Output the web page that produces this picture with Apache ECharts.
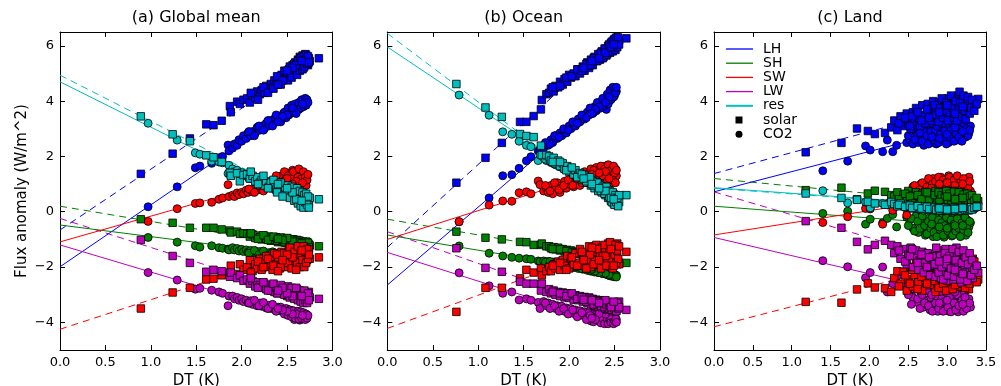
<!DOCTYPE html>
<html><head><meta charset="utf-8">
<script src="https://cdn.jsdelivr.net/npm/echarts@6/dist/echarts.min.js"></script>
<style>html,body{margin:0;padding:0;background:#fff}#chart{width:1001px;height:386px}</style>
</head><body><div id="chart"></div>
<script>
const varNames = ['LH','SH','SW','LW','res'];
const panelTitles = ['(a) Global mean','(b) Ocean','(c) Land'];
const yTickValues = [-4,-2,0,2,4,6];
const xMaxes = [3, 3, 3.5];

// ---- (a) Global mean ----
const aSolarDT = [0.89,1.24,1.43,1.61,1.69,1.78,1.87,1.88,1.95,1.98,2.02,2.06,2.09,2.12,2.15,2.17,2.2,2.22,2.25,2.27,2.3,2.32,2.34,2.36,2.38,2.4,2.42,2.44,2.46,2.48,2.5,2.52,2.54,2.56,2.57,2.59,2.6,2.62,2.63,2.64,2.66,2.67,2.68,2.69,2.7,2.71,2.72,2.73,2.74,2.75,2.85,
  2.1,2.18,2.24,2.29,2.35,2.39,2.43,2.47,2.51,2.53,2.55,2.58,2.61,2.62,2.64,2.65,2.67,2.68,2.69,2.7,2.71,2.72,2.73,2.74,2.6,2.56,2.5,2.45,2.4,2.66];
const aSolarLH = [1.37,2.1,2.65,3.16,3.13,3.29,3.82,3.6,3.98,3.9,4.05,4.1,3.95,4.2,4.12,4.35,4.25,4.4,4.3,4.55,4.45,4.62,4.5,4.75,4.6,4.85,4.7,4.95,4.8,5.05,4.9,5.15,5.0,5.3,5.1,5.4,5.05,5.5,5.25,5.6,5.35,5.65,5.2,5.5,5.7,5.4,5.6,5.3,5.55,5.45,5.55,
  4.3,4.05,4.5,4.3,4.45,4.9,4.6,5.1,4.75,5.25,4.85,5.35,4.95,5.45,5.1,5.55,5.15,5.6,5.25,5.5,5.68,5.35,5.62,5.4,5.3,5.2,5.1,4.75,4.6,5.45];
const aSolarSH = [-0.27,-0.4,-0.58,-0.58,-0.58,-0.64,-0.68,-0.75,-0.72,-0.8,-0.78,-0.8,-0.9,-0.82,-0.95,-0.86,-0.92,-1.0,-0.88,-0.98,-0.9,-1.05,-0.95,-1.02,-0.92,-1.1,-1.0,-1.08,-0.96,-1.12,-1.02,-1.15,-1.05,-1.1,-1.0,-1.2,-1.08,-1.15,-1.05,-1.22,-1.12,-1.18,-1.08,-1.25,-1.15,-1.2,-1.1,-1.28,-1.18,-1.22,-1.25,
  -0.78,-0.98,-0.85,-1.02,-0.9,-1.05,-0.93,-1.1,-0.98,-1.12,-1.0,-1.15,-1.02,-1.18,-1.05,-1.2,-1.1,-1.22,-1.12,-1.25,-1.08,-1.22,-1.12,-1.28,-1.12,-1.08,-0.95,-1.02,-0.98,-1.15];
const aSolarSW = [-3.5,-2.92,-2.75,-2.45,-2.42,-2.3,-2.2,-1.95,-2.25,-1.9,-2.1,-2.0,-1.75,-2.15,-1.9,-2.05,-1.7,-2.1,-1.85,-1.6,-2.0,-1.75,-2.1,-1.5,-1.9,-1.65,-2.05,-1.45,-1.8,-1.6,-2.0,-1.4,-1.75,-1.55,-1.95,-1.35,-1.7,-1.5,-1.9,-1.3,-1.65,-1.45,-1.85,-1.3,-1.6,-1.4,-1.75,-1.5,-1.35,-1.7,-1.65,
  -2.2,-1.8,-2.0,-1.7,-1.95,-1.55,-2.0,-1.5,-1.85,-1.3,-2.05,-1.45,-1.85,-1.25,-2.0,-1.55,-1.75,-1.25,-2.0,-1.45,-1.85,-1.35,-1.7,-1.55,-2.1,-1.65,-1.55,-1.75,-2.15,-1.4];
const aSolarLW = [-1.02,-1.6,-1.85,-2.17,-2.1,-2.15,-2.35,-2.2,-2.4,-2.3,-2.5,-2.45,-2.6,-2.5,-2.7,-2.55,-2.65,-2.75,-2.6,-2.8,-2.65,-2.85,-2.7,-2.9,-2.75,-2.95,-2.8,-2.7,-2.95,-2.85,-3.05,-2.8,-3.0,-2.9,-3.1,-2.85,-3.05,-2.95,-3.15,-2.9,-3.1,-3.0,-3.2,-2.95,-3.1,-3.25,-3.0,-3.15,-2.9,-3.1,-3.15,
  -2.4,-2.75,-2.55,-2.85,-2.6,-2.95,-2.65,-3.0,-2.7,-3.1,-2.75,-3.15,-2.8,-3.2,-2.85,-3.25,-2.9,-3.3,-2.85,-3.2,-3.05,-3.3,-2.95,-3.2,-2.75,-3.05,-2.95,-2.75,-2.85,-3.05];
const aSolarRes = [3.45,2.8,2.55,2.04,1.97,1.8,1.41,1.3,1.39,1.1,1.33,1.35,1.2,1.3,1.1,1.25,1.05,1.15,0.95,1.1,0.9,1.05,0.85,1.0,0.8,0.95,0.75,0.9,0.7,0.85,0.65,0.8,0.6,0.75,0.55,0.7,0.5,0.65,0.4,0.6,0.35,0.55,0.3,0.5,0.25,0.45,0.2,0.4,0.3,0.5,0.45,
  1.45,1.0,1.3,0.85,1.15,0.7,1.05,0.6,0.95,0.5,0.9,0.4,0.85,0.3,0.75,0.2,0.7,0.15,0.6,0.35,0.65,0.25,0.55,0.15,0.45,0.7,0.85,0.55,1.0,0.4];
const aCo2DT = [0.97,1.29,1.49,1.54,1.67,1.75,1.79,1.85,1.86,1.9,1.92,1.95,1.97,2.0,2.02,2.05,2.07,2.1,2.12,2.15,2.17,2.2,2.22,2.25,2.27,2.3,2.32,2.35,2.37,2.4,2.42,2.44,2.46,2.48,2.5,2.52,2.54,2.56,2.58,2.6,2.61,2.63,2.64,2.66,2.67,2.68,2.69,2.7,2.72,
  2.08,2.14,2.19,2.24,2.29,2.34,2.38,2.43,2.47,2.49,2.51,2.53,2.55,2.57,2.59,2.62,2.63,2.65,2.66,2.68,2.7,2.71,2.72,2.73,2.6,2.56,2.5,2.45,2.4,2.67];
const aCo2LH = [0.18,0.9,1.59,1.65,1.75,1.95,2.0,2.41,2.2,2.3,2.45,2.4,2.6,2.55,2.75,2.65,2.85,2.75,2.9,2.85,3.05,2.95,3.1,3.0,3.2,3.1,3.3,3.2,3.4,3.3,3.45,3.35,3.55,3.45,3.65,3.5,3.7,3.6,3.8,3.65,3.85,3.7,3.95,3.8,4.0,3.85,4.05,3.9,4.0,
  2.9,2.75,3.1,2.95,3.3,3.1,3.5,3.25,3.6,3.4,3.75,3.55,3.85,3.6,3.9,3.7,3.95,3.75,4.05,3.8,4.1,3.85,4.05,3.95,3.55,3.75,3.5,3.45,3.25,3.9];
const aCo2SH = [-0.93,-1.1,-1.23,-1.28,-1.23,-1.3,-1.32,-1.35,-1.38,-1.3,-1.38,-1.33,-1.42,-1.36,-1.44,-1.38,-1.46,-1.4,-1.48,-1.42,-1.5,-1.44,-1.52,-1.46,-1.53,-1.48,-1.55,-1.47,-1.56,-1.5,-1.58,-1.52,-1.6,-1.53,-1.62,-1.55,-1.6,-1.54,-1.63,-1.56,-1.65,-1.58,-1.66,-1.59,-1.67,-1.6,-1.68,-1.62,-1.66,
  -1.5,-1.4,-1.55,-1.42,-1.58,-1.45,-1.6,-1.48,-1.65,-1.5,-1.68,-1.52,-1.7,-1.55,-1.7,-1.52,-1.72,-1.55,-1.74,-1.58,-1.72,-1.6,-1.75,-1.62,-1.6,-1.62,-1.58,-1.55,-1.52,-1.64];
const aCo2SW = [-0.35,0.11,0.3,0.32,0.34,0.45,0.5,0.98,0.55,0.6,0.55,0.68,0.62,0.7,0.65,0.78,0.7,0.8,0.72,0.85,0.78,0.9,0.8,0.95,0.85,1.0,0.88,1.1,0.9,1.2,0.95,1.3,0.85,1.15,1.4,0.9,1.25,1.5,1.0,1.3,0.8,1.45,1.1,1.35,0.9,1.2,1.4,1.0,1.3,
  0.82,0.7,0.95,0.75,1.05,0.85,1.3,1.05,1.45,1.0,1.3,0.8,1.2,1.45,0.95,1.25,1.55,0.85,1.2,1.45,1.25,0.95,1.15,1.35,1.1,1.0,1.2,0.9,1.0,1.05];
const aCo2LW = [-2.2,-2.47,-2.8,-2.77,-2.84,-2.9,-2.95,-3.4,-3.05,-3.05,-3.15,-3.1,-3.2,-3.15,-3.25,-3.2,-3.3,-3.22,-3.35,-3.28,-3.4,-3.3,-3.42,-3.35,-3.48,-3.38,-3.5,-3.42,-3.55,-3.45,-3.58,-3.5,-3.62,-3.52,-3.65,-3.55,-3.68,-3.58,-3.9,-3.6,-3.75,-3.62,-3.92,-3.65,-3.8,-3.68,-3.85,-3.72,-3.8,
  -3.3,-3.2,-3.4,-3.28,-3.5,-3.35,-3.6,-3.45,-3.7,-3.5,-3.75,-3.55,-3.8,-3.58,-3.85,-3.6,-3.88,-3.62,-3.85,-3.65,-3.9,-3.7,-3.85,-3.75,-3.7,-3.7,-3.6,-3.55,-3.5,-3.75];
const aCo2Res = [3.2,2.59,2.13,2.08,1.83,1.8,1.77,1.38,1.68,1.55,1.45,1.5,1.4,1.42,1.32,1.35,1.25,1.3,1.2,1.22,1.12,1.15,1.05,1.08,0.98,1.0,0.9,0.92,0.82,0.85,0.75,0.8,0.7,0.72,0.62,0.68,0.58,0.6,0.5,0.55,0.45,0.5,0.4,0.45,0.35,0.42,0.32,0.38,0.3,
  1.2,1.25,1.05,1.1,0.95,1.0,0.8,0.85,0.65,0.75,0.6,0.7,0.5,0.6,0.45,0.55,0.4,0.5,0.35,0.45,0.3,0.4,0.35,0.25,0.5,0.55,0.7,0.7,0.8,0.4];
const aSolarFitX = [0, 2.75];
const aSolarFit = [[-0.66,5.39],[0.2,-1.31],[-4.25,-1.31],[-0.24,-3.13],[4.94,0.35]];
const aCo2FitX = [0, 2.72];
const aCo2Fit = [[-1.99,4.1],[-0.48,-1.62],[-1.09,1.44],[-1.2,-3.87],[4.7,0.24]];

// ---- (b) Ocean ----
const bSolarDT = [0.76,1.08,1.26,1.46,1.53,1.61,1.69,1.7,1.75,1.78,1.8,1.83,1.85,1.88,1.9,1.93,1.95,1.98,2.0,2.02,2.05,2.07,2.1,2.12,2.15,2.17,2.2,2.22,2.24,2.26,2.28,2.3,2.32,2.34,2.36,2.38,2.4,2.42,2.43,2.45,2.46,2.48,2.49,2.5,2.52,2.53,2.55,2.63,
  1.82,1.9,1.97,2.03,2.09,2.14,2.19,2.23,2.27,2.31,2.35,2.37,2.39,2.41,2.44,2.45,2.47,2.48,2.5,2.51,2.52,2.53,2.54,2.55,2.4,2.33,2.25,2.16,2.46,2.49];
const bSolarLH = [1.05,1.95,2.49,3.25,3.25,3.46,3.7,4.04,4.25,4.3,4.45,4.35,4.55,4.5,4.7,4.6,4.8,4.7,4.95,4.85,5.0,4.9,5.15,5.0,5.25,5.1,5.4,5.2,5.5,5.3,5.6,5.45,5.7,5.5,5.8,5.6,5.9,5.7,6.0,5.8,6.1,5.85,6.2,5.95,6.25,6.05,6.2,6.27,
  4.5,4.55,4.85,4.9,5.15,5.1,5.35,5.3,5.55,5.45,5.75,5.55,5.9,5.65,6.05,5.75,6.15,5.8,6.25,5.85,6.3,5.95,6.3,6.05,5.75,5.55,5.45,5.2,5.95,6.05];
const bSolarSH = [-0.72,-0.94,-1.0,-1.09,-1.1,-1.2,-1.2,-1.15,-1.25,-1.25,-1.32,-1.28,-1.36,-1.3,-1.4,-1.35,-1.44,-1.38,-1.46,-1.4,-1.5,-1.44,-1.53,-1.47,-1.56,-1.5,-1.6,-1.53,-1.63,-1.56,-1.66,-1.6,-1.7,-1.62,-1.72,-1.66,-1.76,-1.68,-1.78,-1.7,-1.8,-1.74,-1.84,-1.76,-1.86,-1.78,-1.84,-1.85,
  -1.35,-1.36,-1.42,-1.48,-1.46,-1.52,-1.55,-1.58,-1.62,-1.65,-1.68,-1.7,-1.72,-1.74,-1.76,-1.82,-1.78,-1.85,-1.8,-1.88,-1.82,-1.9,-1.84,-1.88,-1.68,-1.66,-1.6,-1.5,-1.76,-1.82];
const bSolarSW = [-3.62,-2.75,-2.75,-2.41,-2.1,-2.2,-2.05,-2.3,-2.15,-2.0,-2.15,-1.9,-2.05,-1.8,-2.1,-1.75,-1.95,-1.6,-2.05,-1.7,-1.9,-1.5,-1.85,-1.35,-1.95,-1.6,-1.8,-1.25,-2.0,-1.45,-1.75,-1.2,-1.9,-1.55,-1.3,-1.85,-1.4,-1.7,-1.15,-2.0,-1.5,-1.25,-1.8,-1.35,-1.6,-1.15,-1.9,-1.45,
  -1.95,-1.85,-2.1,-1.65,-1.95,-1.45,-2.05,-1.55,-1.9,-1.35,-2.05,-1.6,-1.2,-1.95,-1.45,-1.1,-1.7,-2.05,-1.55,-1.2,-1.85,-1.4,-1.7,-1.25,-1.6,-1.75,-1.3,-1.75,-1.35,-1.95];
const bSolarLW = [-1.32,-2.03,-2.17,-2.53,-2.6,-2.6,-2.85,-2.6,-2.9,-2.8,-2.95,-2.85,-3.0,-2.9,-3.05,-2.92,-3.1,-2.95,-3.12,-3.0,-3.18,-3.02,-3.2,-3.05,-3.25,-3.08,-3.3,-3.1,-3.35,-3.15,-3.4,-3.18,-3.42,-3.2,-3.45,-3.25,-3.5,-3.28,-3.55,-3.3,-3.5,-3.35,-3.6,-3.3,-3.55,-3.4,-3.25,-3.55,
  -2.9,-2.95,-3.05,-2.95,-3.15,-3.1,-3.25,-3.15,-3.35,-3.25,-3.4,-3.3,-3.45,-3.35,-3.5,-3.4,-3.55,-3.3,-3.5,-3.4,-3.6,-3.3,-3.5,-3.45,-3.2,-3.3,-3.2,-3.18,-3.45,-3.25];
const bSolarRes = [4.62,3.77,3.43,2.81,2.74,2.7,2.39,2.05,2.05,2.0,1.85,1.95,1.75,1.85,1.65,1.75,1.55,1.65,1.45,1.55,1.35,1.5,1.3,1.4,1.15,1.3,1.05,1.2,0.95,1.1,0.85,1.0,0.75,0.95,0.7,0.85,0.6,0.8,0.5,0.7,0.4,0.65,0.3,0.55,0.25,0.45,0.35,0.6,
  1.8,1.8,1.5,1.6,1.25,1.35,1.1,1.25,0.95,1.05,0.75,0.9,0.65,0.9,0.55,0.75,0.35,0.7,0.25,0.6,0.35,0.5,0.2,0.6,0.75,0.85,1.0,1.2,0.5,0.45];
const bCo2DT = [0.79,1.12,1.27,1.37,1.45,1.53,1.58,1.66,1.68,1.72,1.75,1.77,1.8,1.82,1.85,1.87,1.9,1.92,1.95,1.97,2.0,2.02,2.05,2.07,2.1,2.12,2.15,2.17,2.2,2.22,2.24,2.26,2.28,2.3,2.32,2.34,2.36,2.38,2.4,2.41,2.43,2.44,2.46,2.47,2.48,2.5,2.51,2.52,
  1.74,1.79,1.84,1.89,1.94,1.99,2.04,2.09,2.14,2.19,2.23,2.27,2.31,2.35,2.37,2.39,2.42,2.43,2.45,2.46,2.48,2.49,2.5,2.51,2.52,2.44,2.4,2.33,2.29,2.25];
const bCo2LH = [-0.36,0.5,1.3,1.34,1.57,1.84,1.99,2.2,2.23,2.3,2.45,2.4,2.6,2.5,2.75,2.65,2.85,2.75,2.95,2.85,3.1,3.0,3.2,3.1,3.35,3.25,3.45,3.35,3.6,3.5,3.7,3.55,3.8,3.65,3.9,3.75,4.0,3.85,4.1,3.7,4.2,4.0,4.3,4.1,4.4,4.2,4.45,4.35,
  2.5,2.45,2.75,2.7,3.0,2.95,3.25,3.2,3.5,3.4,3.75,3.6,3.95,3.75,4.1,3.85,4.25,3.9,4.4,4.05,4.5,4.15,4.45,4.3,4.5,4.15,3.95,3.8,3.7,3.55];
const bCo2SH = [-1.24,-1.5,-1.6,-1.65,-1.68,-1.7,-1.72,-1.78,-1.8,-1.78,-1.84,-1.8,-1.86,-1.82,-1.9,-1.85,-1.92,-1.88,-1.95,-1.9,-1.98,-1.93,-2.02,-1.96,-2.05,-2.0,-2.08,-2.03,-2.12,-2.06,-2.15,-2.1,-2.18,-2.12,-2.2,-2.15,-2.22,-2.17,-2.25,-2.19,-2.28,-2.22,-2.3,-2.24,-2.32,-2.27,-2.33,-2.3,
  -1.82,-1.8,-1.88,-1.86,-1.94,-1.92,-2.0,-1.98,-2.06,-2.04,-2.12,-2.1,-2.18,-2.16,-2.24,-2.2,-2.28,-2.24,-2.32,-2.26,-2.34,-2.28,-2.35,-2.3,-2.36,-2.27,-2.22,-2.2,-2.14,-2.08];
const bCo2SW = [-0.36,0.24,0.39,0.38,0.69,0.72,0.65,1.11,0.98,0.75,0.85,0.7,0.95,0.65,0.9,1.05,0.7,0.95,1.1,0.85,1.0,1.2,0.9,1.1,1.3,0.95,1.2,1.45,1.05,1.3,1.55,1.1,1.4,1.6,1.2,1.5,1.0,1.35,1.65,1.15,1.45,1.25,1.6,1.05,1.4,1.2,1.55,1.3,
  0.95,0.75,1.05,0.8,0.95,1.15,0.95,1.2,1.05,1.35,1.15,1.5,1.25,1.65,1.3,1.55,1.1,1.7,1.35,1.5,1.15,1.65,1.4,1.05,1.5,1.2,1.45,1.4,1.05,1.35];
const bCo2LW = [-2.21,-2.68,-2.95,-2.9,-3.19,-3.15,-3.2,-3.28,-3.5,-3.25,-3.4,-3.3,-3.45,-3.35,-3.5,-3.4,-3.55,-3.42,-3.6,-3.48,-3.62,-3.5,-3.68,-3.55,-3.72,-3.58,-3.75,-3.62,-3.8,-3.65,-3.95,-3.7,-3.85,-3.72,-3.9,-3.75,-3.95,-3.78,-3.92,-3.8,-4.0,-3.82,-3.98,-3.85,-4.02,-3.88,-3.95,-3.9,
  -3.3,-3.5,-3.4,-3.6,-3.5,-3.7,-3.55,-3.8,-3.65,-3.9,-3.75,-3.98,-3.8,-4.02,-3.85,-4.05,-3.88,-4.05,-3.9,-4.0,-3.85,-4.05,-3.95,-3.85,-4.0,-3.75,-3.7,-3.68,-3.9,-3.85];
const bCo2Res = [4.22,3.49,2.89,2.8,2.55,2.4,2.35,1.85,2.05,1.95,1.85,1.92,1.78,1.85,1.7,1.75,1.62,1.68,1.55,1.6,1.48,1.52,1.4,1.45,1.32,1.38,1.25,1.3,1.18,1.22,1.1,1.15,1.02,1.08,0.95,1.0,0.88,0.92,0.8,0.85,0.72,0.78,0.65,0.7,0.6,0.65,0.55,0.6,
  1.9,1.82,1.72,1.66,1.56,1.5,1.42,1.36,1.28,1.2,1.14,1.06,1.0,0.92,0.86,0.82,0.76,0.7,0.68,0.6,0.62,0.55,0.58,0.5,0.52,0.75,0.85,0.95,1.02,1.1];
const bSolarFitX = [0, 2.55];
const bSolarFit = [[-1.29,6.36],[-0.27,-1.72],[-4.22,-1.16],[-0.72,-3.65],[6.45,0.13]];
const bCo2FitX = [0, 2.52];
const bCo2Fit = [[-2.65,4.45],[-0.84,-2.23],[-1.0,1.62],[-1.47,-4.09],[5.96,0.42]];

// ---- (c) Land ----
const cSolarDT = [1.18,1.64,1.84,1.98,2.07,2.2,2.28,2.32,2.36,2.4,2.44,2.48,2.5,2.53,2.56,2.58,2.6,2.63,2.65,2.68,2.7,2.72,2.75,2.78,2.8,2.82,2.85,2.87,2.9,2.92,2.94,2.96,2.98,3.0,3.02,3.04,3.06,3.08,3.1,3.12,3.14,3.16,3.18,3.2,3.22,3.25,3.28,3.3,3.33,3.37,3.4,
  2.38,2.46,2.52,2.55,2.62,2.67,2.74,2.77,2.84,2.86,2.89,2.91,2.93,2.95,2.97,2.99,3.01,3.03,3.05,3.07,3.09,3.11,3.13,3.15,3.17,3.19,3.21,3.23,3.24,3.26,3.27,3.29,3.31,3.32,3.35,3.38,3.0,3.1,2.9,3.2];
const cSolarLH = [2.15,2.49,3.01,2.92,2.81,2.85,3.05,3.3,2.95,3.45,3.1,3.55,3.2,3.0,3.6,3.25,3.75,3.4,3.1,3.85,3.5,3.2,3.9,3.6,3.3,4.0,3.7,3.4,3.95,3.55,3.2,4.05,3.75,3.45,4.1,3.8,3.5,4.15,3.9,3.6,4.2,4.34,3.7,4.05,3.85,4.1,3.6,3.95,3.8,3.88,4.08,
  3.2,3.4,3.1,3.45,3.6,3.3,3.7,3.4,3.85,3.5,3.25,3.75,4.1,3.4,3.65,3.95,3.3,3.6,4.2,3.75,3.4,4.0,3.3,3.7,3.95,3.45,4.2,3.65,3.35,3.9,4.15,3.55,3.75,4.05,3.65,3.9,3.85,3.55,3.6,3.8];
const cSolarSH = [0.78,0.87,0.45,0.66,0.76,0.72,0.6,0.55,0.7,0.4,0.62,0.5,0.75,0.35,0.6,0.45,0.7,0.3,0.55,0.65,0.4,0.72,0.5,0.3,0.6,0.45,0.75,0.35,0.55,0.25,0.65,0.4,0.7,0.3,0.5,0.62,0.2,0.45,0.75,0.35,0.55,0.25,0.6,0.4,0.68,0.3,0.5,0.2,0.45,0.32,0.38,
  0.45,0.65,0.55,0.3,0.6,0.45,0.7,0.4,0.6,0.25,0.7,0.45,0.6,0.3,0.55,0.75,0.4,0.65,0.25,0.55,0.72,0.35,0.5,0.7,0.3,0.5,0.62,0.25,0.45,0.65,0.35,0.55,0.3,0.6,0.4,0.5,0.55,0.45,0.35,0.5];
const cSolarSW = [-3.26,-3.29,-2.81,-2.59,-2.74,-2.77,-2.9,-2.4,-2.15,-2.6,-2.17,-2.85,-2.45,-2.0,-2.7,-2.3,-1.85,-2.55,-2.1,-2.85,-1.7,-2.4,-2.0,-2.65,-1.6,-2.25,-2.9,-1.9,-1.48,-2.5,-2.1,-2.77,-1.75,-2.35,-1.55,-2.6,-2.0,-1.4,-2.45,-1.8,-2.7,-1.5,-2.2,-1.65,-2.5,-1.9,-2.8,-2.1,-1.7,-2.3,-2.45,
  -2.7,-2.3,-2.6,-2.1,-2.8,-2.35,-2.6,-1.9,-2.5,-2.2,-2.75,-1.65,-2.3,-2.6,-1.95,-2.85,-2.15,-1.7,-2.45,-2.8,-1.85,-2.3,-1.55,-2.6,-2.05,-1.45,-2.35,-2.75,-1.75,-2.2,-1.55,-2.6,-1.95,-2.4,-1.8,-2.55,-2.0,-2.65,-2.4,-2.0];
const cSolarLW = [-0.34,-0.58,-1.09,-1.36,-1.2,-1.05,-1.2,-1.5,-1.25,-1.7,-1.35,-1.9,-1.55,-1.3,-2.0,-1.6,-1.4,-2.1,-1.75,-1.45,-2.2,-1.85,-1.5,-2.3,-1.95,-1.6,-2.35,-2.0,-1.4,-2.4,-1.75,-2.15,-1.35,-2.5,-1.85,-2.2,-1.5,-2.45,-1.95,-1.3,-2.3,-1.7,-2.55,-2.05,-1.6,-2.35,-1.85,-2.15,-2.4,-2.0,-2.2,
  -1.4,-1.8,-1.6,-1.35,-1.85,-1.55,-2.0,-1.65,-1.9,-1.3,-2.2,-1.6,-2.0,-2.45,-1.5,-1.9,-2.3,-1.6,-2.05,-1.35,-2.35,-1.75,-2.15,-1.45,-2.45,-1.85,-1.4,-2.2,-1.65,-2.5,-1.9,-1.5,-2.3,-1.75,-2.1,-1.95,-1.7,-2.1,-1.8,-2.25];
const cSolarRes = [0.66,0.5,0.43,0.36,0.3,0.25,0.35,0.28,0.2,0.3,0.22,0.15,0.25,0.18,0.12,0.22,0.15,0.2,0.1,0.18,0.12,0.2,0.08,0.15,0.1,0.18,0.05,0.14,0.08,0.16,0.06,0.12,0.04,0.1,0.06,0.14,0.02,0.1,0.05,0.12,0.03,0.1,0.06,0.14,0.08,0.12,0.05,0.15,0.1,0.18,0.2,
  0.25,0.18,0.22,0.14,0.2,0.12,0.18,0.1,0.15,0.08,0.15,0.05,0.12,0.1,0.16,0.06,0.12,0.04,0.1,0.08,0.14,0.04,0.1,0.06,0.12,0.04,0.1,0.08,0.14,0.06,0.12,0.1,0.16,0.08,0.14,0.18,0.08,0.1,0.12,0.14];
const cCo2DT = [1.4,1.72,1.95,2.01,2.17,2.23,2.3,2.35,2.48,2.52,2.56,2.6,2.63,2.66,2.7,2.72,2.75,2.78,2.8,2.82,2.84,2.86,2.88,2.9,2.92,2.94,2.96,2.98,3.0,3.02,3.04,3.06,3.08,3.1,3.12,3.14,3.16,3.18,3.2,3.22,3.24,3.26,3.28,3.3,
  2.5,2.54,2.58,2.62,2.65,2.68,2.71,2.74,2.76,2.79,2.81,2.83,2.85,2.87,2.89,2.91,2.93,2.95,2.97,2.99,3.01,3.03,3.05,3.07,3.09,3.11,3.13,3.15,3.17,3.19,3.21,3.23,3.25,3.27,3.29,3.0,3.1,2.9,2.8,3.2];
const cCo2LH = [1.48,1.83,2.38,2.23,2.17,2.59,2.17,2.4,2.5,2.6,2.45,2.85,2.5,2.7,2.4,2.95,2.6,3.1,2.5,2.8,3.2,2.45,2.9,3.05,2.55,2.75,3.25,2.65,3.0,2.5,2.85,3.15,2.7,3.3,2.9,2.6,3.1,2.8,3.2,2.95,2.7,3.05,2.85,3.1,
  2.75,2.95,2.6,3.05,2.85,2.55,3.15,2.75,2.45,2.9,3.2,2.6,2.95,3.1,2.5,2.8,3.25,2.6,2.95,2.45,3.15,2.7,2.95,3.2,2.55,2.85,3.15,2.7,3.0,2.55,3.2,2.85,3.0,2.75,2.95,2.8,3.05,2.65,2.7,2.9];
const cCo2SH = [-0.06,0.02,-0.45,-0.27,-0.4,-0.24,-0.1,-0.55,-0.2,-0.3,-0.6,-0.15,-0.75,-0.4,-0.55,-0.85,-0.25,-0.65,-0.45,-0.9,-0.1,-0.7,-0.35,-0.8,-0.5,-0.2,-0.92,-0.6,-0.3,-0.75,-0.45,-0.88,-0.15,-0.62,-0.38,-0.8,-0.5,-0.25,-0.7,-0.42,-0.85,-0.3,-0.55,-0.4,
  -0.5,-0.25,-0.7,-0.35,-0.6,-0.15,-0.5,-0.8,-0.35,-0.6,-0.2,-0.75,-0.45,-0.9,-0.3,-0.65,-0.4,-0.85,-0.5,-0.2,-0.7,-0.55,-0.3,-0.85,-0.45,-0.7,-0.25,-0.6,-0.9,-0.4,-0.65,-0.2,-0.55,-0.75,-0.35,-0.6,-0.5,-0.55,-0.45,-0.5];
const cCo2SW = [-0.39,-0.18,0.12,0.1,-0.45,0.3,0.05,0.5,-0.12,0.6,0.9,0.45,0.75,1.0,0.55,0.85,1.1,0.65,0.95,1.2,0.7,0.5,1.05,0.8,1.25,0.6,0.9,1.15,0.7,1.3,0.85,0.55,1.05,0.75,1.2,0.95,0.6,1.1,0.8,1.0,0.65,0.9,1.25,0.75,
  0.7,0.5,0.95,0.6,0.8,1.05,0.7,0.9,1.2,0.75,1.0,0.55,1.1,0.85,1.25,0.65,0.95,1.15,0.75,1.05,0.9,1.25,0.65,1.0,1.15,0.85,1.3,0.75,1.05,0.9,1.2,0.7,1.0,0.85,1.1,1.05,0.95,1.0,0.85,1.0];
const cCo2LW = [-1.77,-1.99,-2.39,-2.2,-2.0,-2.9,-2.6,-2.35,-2.7,-2.85,-3.1,-2.6,-3.3,-2.9,-3.45,-2.7,-3.2,-3.55,-2.95,-3.35,-2.5,-3.1,-3.6,-2.8,-3.25,-3.5,-2.65,-3.0,-3.4,-3.6,-2.9,-3.2,-2.4,-3.5,-3.05,-3.62,-2.75,-3.3,-3.55,-2.95,-3.4,-2.6,-3.15,-3.45,
  -3.0,-3.35,-2.8,-3.15,-3.5,-3.0,-3.3,-2.85,-3.4,-3.1,-3.6,-2.75,-3.3,-3.05,-3.5,-2.9,-3.15,-3.6,-3.25,-2.8,-3.45,-3.1,-3.62,-2.85,-3.3,-3.55,-3.0,-3.4,-2.65,-3.2,-3.6,-3.1,-3.5,-2.8,-3.3,-3.2,-2.9,-3.3,-3.0,-3.35];
const cCo2Res = [0.76,0.32,0.35,0.14,0.3,0.25,0.4,0.2,0.3,0.25,0.15,0.3,0.1,0.22,0.05,0.28,0.12,0.2,0.08,0.25,0.15,0.3,0.05,0.18,0.1,0.22,0.02,0.15,0.25,0.08,0.18,0.12,0.3,0.05,0.2,0.1,0.25,0.15,0.08,0.2,0.12,0.28,0.1,0.2,
  0.2,0.28,0.12,0.25,0.1,0.2,0.15,0.3,0.05,0.2,0.12,0.25,0.08,0.2,0.15,0.28,0.05,0.18,0.1,0.22,0.15,0.05,0.2,0.12,0.25,0.08,0.18,0.1,0.22,0.15,0.05,0.2,0.12,0.25,0.15,0.18,0.15,0.1,0.22,0.12];
const cSolarFitX = [0, 3.4];
const cSolarFit = [[1.38,3.96],[1.2,0.28],[-4.16,-1.68],[0.72,-2.1],[0.85,0.15]];
const cCo2FitX = [0, 3.3];
const cCo2Fit = [[0.72,3.13],[0.2,-0.5],[-0.84,0.61],[-0.93,-3.1],[0.87,0.2]];

// ---- styling ----
const varColors = ['#0000ff','#008000','#ff0000','#bf00bf','#00bfbf'];
const FONT = 'DejaVu Sans';
const gridBoxes = [
  {left:60, top:32, width:272.5, height:318},
  {left:387.3, top:32, width:272.7, height:318},
  {left:714, top:32, width:272, height:318}
];
const panels = [
  {solar:{dt:aSolarDT, ys:[aSolarLH,aSolarSH,aSolarSW,aSolarLW,aSolarRes], fx:aSolarFitX, fit:aSolarFit},
   co2:{dt:aCo2DT, ys:[aCo2LH,aCo2SH,aCo2SW,aCo2LW,aCo2Res], fx:aCo2FitX, fit:aCo2Fit}},
  {solar:{dt:bSolarDT, ys:[bSolarLH,bSolarSH,bSolarSW,bSolarLW,bSolarRes], fx:bSolarFitX, fit:bSolarFit},
   co2:{dt:bCo2DT, ys:[bCo2LH,bCo2SH,bCo2SW,bCo2LW,bCo2Res], fx:bCo2FitX, fit:bCo2Fit}},
  {solar:{dt:cSolarDT, ys:[cSolarLH,cSolarSH,cSolarSW,cSolarLW,cSolarRes], fx:cSolarFitX, fit:cSolarFit},
   co2:{dt:cCo2DT, ys:[cCo2LH,cCo2SH,cCo2SW,cCo2LW,cCo2Res], fx:cCo2FitX, fit:cCo2Fit}}
];

const fmtY = v => (v < 0 ? '\u2212' + Math.abs(v) : String(v));
const xAxes = [], yAxes = [], series = [];
const lineAx = () => ({show:true, onZero:false, lineStyle:{color:'#000', width:1}});
const tickAx = extra => Object.assign({show:true, inside:true, length:5, lineStyle:{color:'#000', width:1}}, extra || {});
gridBoxes.forEach((g, i) => {
  xAxes.push({gridIndex:i, type:'value', position:'bottom', min:0, max:xMaxes[i], interval:0.5,
    axisLine:lineAx(), axisTick:tickAx(), splitLine:{show:false},
    axisLabel:{formatter:v=>v.toFixed(1), fontSize:13, color:'#000', margin:6, fontFamily:FONT},
    name:'DT (K)', nameLocation:'middle', nameGap:18,
    nameTextStyle:{fontSize:15, color:'#000', fontFamily:FONT}});
  yAxes.push({gridIndex:i, type:'value', position:'left', min:-5, max:6.5,
    axisLine:lineAx(), axisTick:tickAx({customValues:yTickValues}), splitLine:{show:false},
    axisLabel:{customValues:yTickValues, formatter:fmtY, fontSize:13, color:'#000', margin:6, fontFamily:FONT},
    name: i === 0 ? 'Flux anomaly (W/m^2)' : '', nameLocation:'middle', nameGap:30, nameRotate:90,
    nameTextStyle:{fontSize:15, color:'#000', fontFamily:FONT}});
});
gridBoxes.forEach((g, i) => {
  xAxes.push({gridIndex:i, type:'value', position:'top', min:0, max:xMaxes[i], interval:0.5,
    axisLine:lineAx(), axisTick:tickAx(), axisLabel:{show:false}, splitLine:{show:false},
    name:panelTitles[i], nameLocation:'middle', nameGap:6,
    nameTextStyle:{fontSize:16, color:'#000', fontFamily:FONT}});
  yAxes.push({gridIndex:i, type:'value', position:'right', min:-5, max:6.5,
    axisLine:lineAx(), axisTick:tickAx({customValues:yTickValues}),
    axisLabel:{show:false}, splitLine:{show:false}});
});

panels.forEach((p, i) => {
  ['solar','co2'].forEach(exp => {
    const e = p[exp];
    e.fit.forEach((ends, v) => {
      series.push({type:'line', name: (i === 2 && exp === 'co2') ? varNames[v] : 'fit',
        xAxisIndex:i, yAxisIndex:i, symbol:'none', silent:true, z:2,
        data:[[e.fx[0], ends[0]], [e.fx[1], ends[1]]],
        itemStyle:{color:varColors[v]},
        lineStyle:{color:varColors[v], width:1, type: exp === 'solar' ? [7,5] : 'solid'}});
    });
  });
  [['co2','circle',8,'CO2'],['solar','rect',7.5,'solar']].forEach(([exp, sym, size, nm], k) => {
    const e = p[exp];
    e.ys.forEach((ys, v) => {
      series.push({type:'scatter', name:nm, xAxisIndex:i, yAxisIndex:i, symbol:sym, symbolSize:size,
        silent:true, z:3 + k,
        data: e.dt.map((x, j) => [x, ys[j]]),
        itemStyle:{color:varColors[v], borderColor:'#000', borderWidth:0.8, opacity:1}});
    });
  });
});

const lineIcon = w => 'path://M0,0M32,14M0,' + (7 - w/2) + 'h27v' + w + 'h-27z';
const legendData = varNames.map((n, v) => ({name:n, icon:lineIcon(v === 4 ? 2 : 1.3),
  itemStyle:{color:varColors[v], borderWidth:0}}));
legendData.push({name:'solar', icon:'path://M0,0M32,14M9.5,3.5h7v7h-7z', itemStyle:{color:'#000', borderWidth:0}});
legendData.push({name:'CO2', icon:'path://M0,0M32,14M16.5,7A3.5,3.5 0 1 1 9.5,7A3.5,3.5 0 1 1 16.5,7z', itemStyle:{color:'#000', borderWidth:0}});

const chart = echarts.init(document.getElementById('chart'), null, {renderer:'canvas'});
chart.setOption({
  animation:false,
  backgroundColor:'#fff',
  textStyle:{fontFamily:FONT},
  grid: gridBoxes.map(g => Object.assign({containLabel:false, outerBoundsMode:'none'}, g)),
  xAxis: xAxes,
  yAxis: yAxes,
  legend:{orient:'vertical', left:726, top:42, itemWidth:32, itemHeight:14, itemGap:0.2, padding:0,
    selectedMode:false, data:legendData,
    textStyle:{fontSize:14, color:'#000', lineHeight:14, fontFamily:FONT}},
  series: series
});
</script>
</body></html>
